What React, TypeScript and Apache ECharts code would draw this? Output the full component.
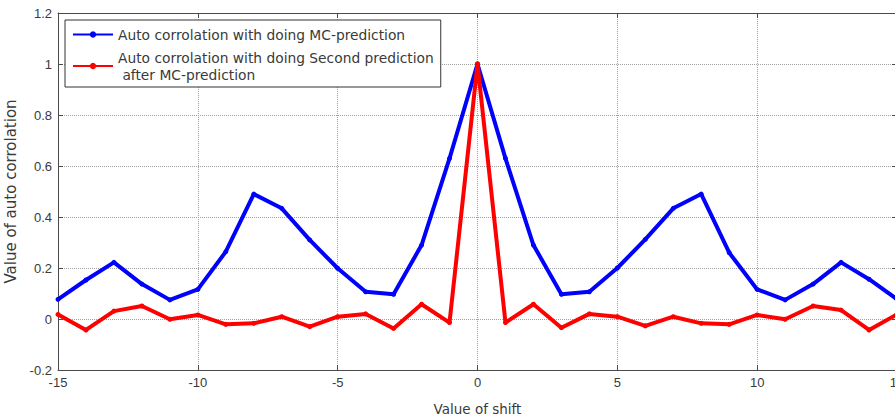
import React, { useEffect, useRef } from "react";
import * as echarts from "echarts";

// Shift values (lags) from -15 to 15
const shifts: number[] = [
  -15, -14, -13, -12, -11, -10, -9, -8, -7, -6, -5, -4, -3, -2, -1, 0,
  1, 2, 3, 4, 5, 6, 7, 8, 9, 10, 11, 12, 13, 14, 15,
];

// Autocorrelation after MC-prediction
const mcPrediction: number[] = [
  0.077, 0.153, 0.222, 0.137, 0.075, 0.116, 0.264, 0.49, 0.434, 0.31, 0.199,
  0.107, 0.097, 0.29, 0.63, 1.0, 0.63, 0.29, 0.097, 0.107, 0.2, 0.312, 0.434,
  0.49, 0.26, 0.116, 0.075, 0.137, 0.222, 0.156, 0.078,
];

// Autocorrelation after second prediction on top of MC-prediction
const secondPrediction: number[] = [
  0.018, -0.043, 0.031, 0.051, -0.001, 0.016, -0.021, -0.017, 0.009, -0.03,
  0.009, 0.02, -0.037, 0.058, -0.014, 1.0, -0.014, 0.058, -0.034, 0.02, 0.009,
  -0.027, 0.009, -0.017, -0.021, 0.016, -0.001, 0.051, 0.035, -0.043, 0.018,
];

const seriesNames: string[] = [
  "Auto corrolation with doing MC-prediction",
  "Auto corrolation with doing Second prediction\n after MC-prediction",
];

const FONT = "'Liberation Sans', Arial, sans-serif";
const WIDE_FONT = "'DejaVu Sans', 'Liberation Sans', sans-serif";
const TEXT = "#3a3a3a";
const AXIS = "#4a4a4a";

export default function App() {
  const ref = useRef<HTMLDivElement>(null);

  useEffect(() => {
    if (!ref.current) return;
    const chart = echarts.init(ref.current, undefined, { renderer: "svg" });

    const pairs = (ys: number[]) => shifts.map((x, i) => [x, ys[i]]);

    const axisLine = { show: true, onZero: false, lineStyle: { color: AXIS, width: 1 } };
    const axisTick = { show: true, inside: true, length: 5, lineStyle: { color: AXIS, width: 1 } };
    const gridLine = { show: true, lineStyle: { color: "#a0a0a0", type: "dotted" as const, width: 1 } };

    chart.setOption({
      animation: false,
      backgroundColor: "#ffffff",
      textStyle: { fontFamily: FONT },
      grid: {
        left: 58,
        top: 13,
        width: 839,
        height: 357,
        containLabel: false,
        outerBoundsMode: "none",
      },
      legend: {
        left: 65,
        top: 20,
        orient: "vertical",
        backgroundColor: "#ffffff",
        borderColor: "#333333",
        borderWidth: 1,
        borderRadius: 0,
        padding: [6, 7, 4, 7],
        itemWidth: 40,
        itemHeight: 8,
        itemGap: 6,
        textStyle: { fontFamily: WIDE_FONT, fontSize: 13.8, color: TEXT, lineHeight: 17 },
        data: seriesNames,
      },
      xAxis: [
        {
          type: "value",
          min: -15,
          max: 15,
          interval: 5,
          position: "bottom",
          name: "Value of shift",
          nameLocation: "middle",
          nameGap: 32,
          nameTextStyle: { fontFamily: WIDE_FONT, fontSize: 13.5, color: TEXT },
          axisLine,
          axisTick,
          axisLabel: { color: TEXT, fontSize: 13, fontFamily: FONT, margin: 6 },
          splitLine: gridLine,
        },
        {
          type: "value",
          min: -15,
          max: 15,
          interval: 5,
          position: "top",
          axisLine,
          axisTick,
          axisLabel: { show: false },
          splitLine: { show: false },
        },
      ],
      yAxis: [
        {
          type: "value",
          min: -0.2,
          max: 1.2,
          interval: 0.2,
          position: "left",
          name: "Value of auto corrolation",
          nameLocation: "middle",
          nameGap: 30,
          nameTextStyle: { fontFamily: WIDE_FONT, fontSize: 15, color: TEXT },
          axisLine,
          axisTick,
          axisLabel: {
            color: TEXT,
            fontSize: 13,
            fontFamily: FONT,
            margin: 6,
            formatter: (v: number) => String(Math.round(v * 10) / 10),
          },
          splitLine: gridLine,
        },
        {
          type: "value",
          min: -0.2,
          max: 1.2,
          interval: 0.2,
          position: "right",
          axisLine,
          axisTick,
          axisLabel: { show: false },
          splitLine: { show: false },
        },
      ],
      series: [
        {
          name: seriesNames[0],
          type: "line",
          data: pairs(mcPrediction),
          symbol: "circle",
          symbolSize: 5,
          showSymbol: true,
          lineStyle: { color: "#0000ff", width: 4 },
          itemStyle: { color: "#0000ff" },
          z: 2,
        },
        {
          name: seriesNames[1],
          type: "line",
          data: pairs(secondPrediction),
          symbol: "circle",
          symbolSize: 5,
          showSymbol: true,
          lineStyle: { color: "#ff0000", width: 4 },
          itemStyle: { color: "#ff0000" },
          z: 3,
        },
      ],
    });

    return () => chart.dispose();
  }, []);

  return <div ref={ref} style={{ width: 895, height: 418, position: "absolute", left: 0, top: 0 }} />;
}
